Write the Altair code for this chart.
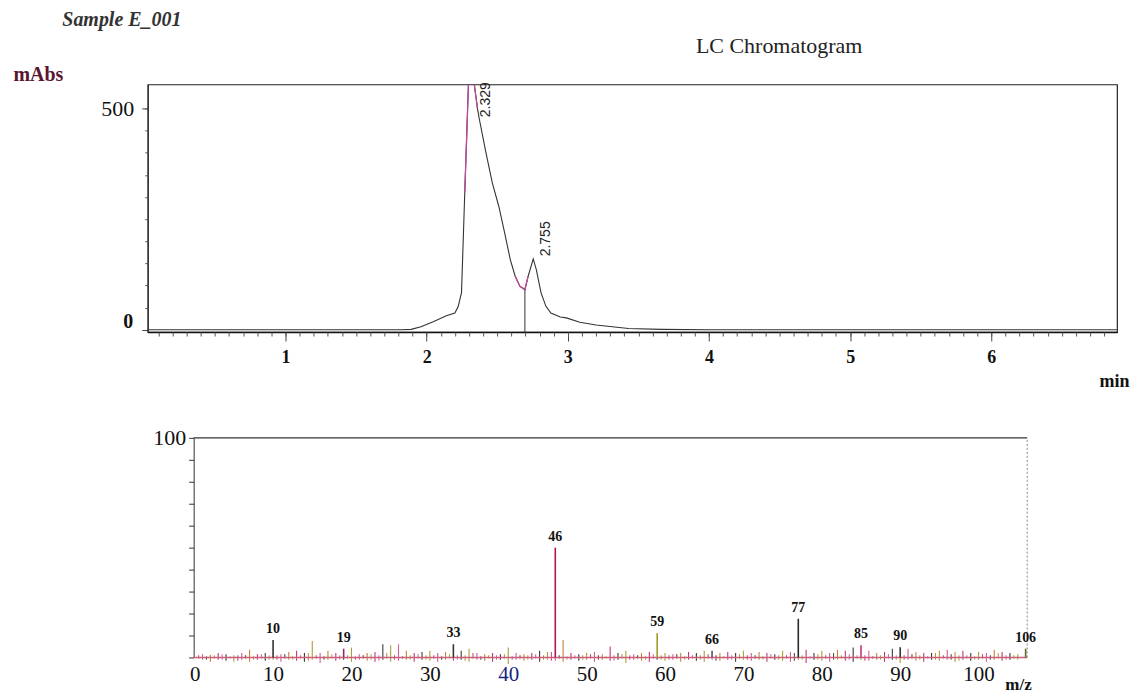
import altair as alt
import pandas as pd

# ---------------- LC chromatogram (top) ----------------
lc_time = [0.02, 0.5, 1.0, 1.5, 1.82, 1.89, 1.96, 2.05, 2.14, 2.20, 2.224, 2.235, 2.247, 2.27,
           2.29, 2.305, 2.335, 2.36, 2.373, 2.42, 2.465, 2.511, 2.558, 2.592, 2.627, 2.661,
           2.696, 2.719, 2.755, 2.777, 2.81, 2.845, 2.88, 2.947, 2.99, 3.085, 3.2, 3.43, 3.66,
           4.0, 5.0, 6.0, 6.89]
lc_mabs = [0, 0, 0, 0, 0, 1, 7, 19, 32, 38, 53, 68, 84, 310,
           497, 640, 560, 500, 476, 400, 332, 279, 211, 159, 121, 98,
           91, 121, 160, 136, 84, 53, 38, 29, 27, 17, 11, 3, 1,
           0, 0, 0, 0]
peak_text = ["2.329", "2.755"]
peak_time = [2.329, 2.755]
peak_label_mabs = [480, 166]
valley_time = [2.696]
valley_mabs = [91]
lc_x_labels = [1, 2, 3, 4, 5, 6]
lc_x_minor = [round(0.1 * i, 1) for i in range(1, 69)]
lc_y_top_label = [500]
lc_y_zero_label = [0]
lc_y_minor = list(range(0, 501, 50))

# ---------------- Mass spectrum (bottom) ----------------
ms_label_text = ["10", "19", "33", "46", "59", "66", "77", "85", "90", "106"]
ms_label_mz = [10, 19, 33, 46, 59, 66, 77, 85, 90, 106]
ms_label_int = [8, 4, 6, 50, 11, 3, 17.6, 5.5, 4.7, 4]

noise_mz = list(range(1, 106))
noise_up = [1.5, 1.2, 2, 1.5, 1, 2, 3.5, 1.5, 2, 0,
            1.5, 2.5, 3, 2, 7.5, 2, 3, 2, 0, 4.5,
            1.5, 2, 2.5, 6, 5.5, 6, 3, 2, 2.5, 3,
            2, 2.5, 0, 3, 4, 2, 1.5, 2, 1.5, 4.5,
            2, 1.5, 2, 3, 2.5, 0, 8, 2, 1.5, 2,
            2.5, 1.5, 5, 2, 3, 1.5, 2, 2.5, 0, 2,
            1.5, 2, 2.5, 2, 3, 0, 2, 2.5, 2, 3,
            2, 2.5, 2, 1.5, 3, 2.5, 0, 3.5, 2, 3,
            2, 3.5, 3, 4.5, 0, 3, 2, 2.5, 4, 0,
            4, 2.5, 2, 2, 3, 3.5, 2.5, 3, 2, 2.5,
            2, 3.5, 2.5, 2, 1.5]
noise_down = [1, 2, 1, 1.5, 2, 1, 2, 1, 1.5, 1,
              2, 1, 1.5, 2, 1, 2.5, 1, 1.5, 1, 2,
              1, 1.5, 2, 1, 2, 1.5, 1, 2, 1, 1.5,
              2, 1, 1.5, 1, 2, 1, 1.5, 2, 1, 3,
              1, 1.5, 1, 2, 1, 1.5, 2, 1, 1.5, 1,
              2, 1, 1.5, 1, 2.5, 1, 1.5, 2, 1, 1.5,
              1, 2, 1, 1.5, 2, 1, 1.5, 1, 2, 1,
              1.5, 1, 2, 1, 1.5, 2, 1, 2.5, 1, 1.5,
              2, 1, 1.5, 2, 1, 1.5, 1, 2, 1, 2.5,
              1, 1.5, 2, 1, 1.5, 1, 2, 1, 1.5, 1,
              2, 1, 1.5, 1, 1]
# smaller in-between noise lines (half-integer m/z)
noise2_mz = [i + 0.5 for i in range(0, 105)]
noise2_up = [1, 0.5, 1, 1.5, 0.5, 1, 1, 0.5, 1.5, 1,
             1, 1.5, 0.5, 1, 2, 1, 0.5, 1.5, 1, 1,
             0.5, 1, 1.5, 1, 2, 1, 0.5, 1, 1.5, 1,
             1, 0.5, 1.5, 1, 1, 2, 0.5, 1, 1, 1.5,
             0.5, 1, 1, 1.5, 1, 2.5, 1, 0.5, 1, 1,
             1.5, 1, 0.5, 1, 1.5, 1, 1, 0.5, 1.5, 1,
             1, 1.5, 0.5, 1, 1, 1.5, 1, 0.5, 1, 1.5,
             1, 1, 0.5, 1.5, 1, 1, 2, 1, 0.5, 1.5,
             1, 2, 1, 1.5, 1, 1, 0.5, 1, 1.5, 1,
             1, 1.5, 1, 0.5, 2, 1, 1.5, 1, 1, 0.5,
             1.5, 1, 2, 1, 1]
noise2_down = [0.5, 1, 0.5, 1, 0.5, 1.5, 0.5, 1, 0.5, 1,
               1, 0.5, 1, 0.5, 1.5, 0.5, 1, 0.5, 1, 0.5,
               1, 0.5, 1, 1.5, 0.5, 1, 0.5, 1, 0.5, 1,
               0.5, 1, 0.5, 1, 1.5, 0.5, 1, 0.5, 1, 0.5,
               1, 0.5, 1, 0.5, 1, 1.5, 0.5, 1, 0.5, 1,
               0.5, 1, 0.5, 1.5, 0.5, 1, 0.5, 1, 0.5, 1,
               1, 0.5, 1, 0.5, 1, 0.5, 1.5, 0.5, 1, 0.5,
               1, 0.5, 1, 0.5, 1, 0.5, 1.5, 1, 0.5, 1,
               0.5, 1, 0.5, 1, 0.5, 1.5, 0.5, 1, 0.5, 1,
               1, 0.5, 1, 0.5, 1, 0.5, 1, 1.5, 0.5, 1,
               0.5, 1, 0.5, 1, 0.5]
ms_x_labels = [0, 10, 20, 30, 40, 50, 60, 70, 80, 90, 100]
ms_y_ticks = list(range(0, 101, 10))

# ---------------- styling constants ----------------
SERIF = "Liberation Serif"
lc_xdom = [0.024, 6.891]
lc_ydom = [-5, 554]
ms_xdom = [-5.99, 106.2]
ms_box = [-0.13, 106.2]
ms_ydom = [0, 100]

# ---------------- top chart ----------------
lc_df = pd.DataFrame({"t": lc_time, "a": lc_mabs})
xs_top = alt.Scale(domain=lc_xdom, nice=False, zero=False)
ys_top = alt.Scale(domain=lc_ydom, nice=False, zero=False)

x_major = alt.Axis(
    orient="bottom", values=lc_x_labels, format="d", tickSize=9,
    tickColor="#444", domainColor="#111", domainWidth=1.5,
    labelFont=SERIF, labelFontSize=18, labelFontWeight="bold", labelColor="#111",
    labelPadding=8, labelFlush=False, grid=False,
    title="min", titleX=983, titleY=50, titleAlign="right", titleBaseline="middle",
    titleFont=SERIF, titleFontSize=18, titleFontWeight="bold", titleColor="#111",
)
x_minor = alt.Axis(
    orient="bottom", values=lc_x_minor, tickSize=4, tickColor="#555",
    labels=False, domain=False, grid=False, title=None,
)
y_major = alt.Axis(
    orient="left", values=lc_y_top_label, tickSize=6, tickColor="#444",
    domainColor="#222", labelFont=SERIF, labelFontSize=22, labelColor="#111",
    labelPadding=8, grid=False,
    title="mAbs", titleAngle=0, titleX=-135, titleY=-10, titleAlign="left",
    titleBaseline="middle", titleFont=SERIF, titleFontSize=20, titleFontWeight="bold",
    titleColor="#5a1530",
)
y_minor = alt.Axis(
    orient="left", values=lc_y_minor, tickSize=3, tickColor="#555",
    labels=False, domain=False, grid=False, title=None,
)
y_zero = alt.Axis(
    orient="left", values=lc_y_zero_label, tickSize=6, tickColor="#444",
    domain=False, labelFont=SERIF, labelFontSize=20, labelFontWeight="bold",
    labelColor="#111", labelPadding=9, labelOffset=-8, grid=False, title=None,
)

lc_line = alt.Chart(lc_df).mark_line(color="#333", strokeWidth=1.1, clip=True).encode(
    x=alt.X("t:Q", scale=xs_top, axis=x_major),
    y=alt.Y("a:Q", scale=ys_top, axis=y_major),
)
lc_mag = alt.Chart(lc_df).transform_filter(
    "(datum.t >= 2.27 && datum.t <= 2.36) || (datum.t >= 2.6 && datum.t <= 2.72)"
).transform_calculate(seg="datum.t < 2.5 ? 'a' : 'b'").mark_line(
    color="#c0479a", strokeWidth=1.3, clip=True
).encode(
    x=alt.X("t:Q", scale=xs_top, axis=x_minor),
    y=alt.Y("a:Q", scale=ys_top, axis=y_minor),
    detail="seg:N",
)
valley_df = pd.DataFrame({"t": valley_time, "a": valley_mabs, "a0": [lc_ydom[0]]})
lc_drop = alt.Chart(valley_df).mark_rule(color="#333", strokeWidth=1).encode(
    x=alt.X("t:Q", scale=xs_top, axis=None),
    y=alt.Y("a:Q", scale=ys_top, axis=y_zero),
    y2="a0:Q",
)
peak_df = pd.DataFrame({"t": peak_time, "a": peak_label_mabs, "txt": peak_text})
lc_text = alt.Chart(peak_df).mark_text(
    angle=270, align="left", baseline="middle", dy=13,
    font="Liberation Sans", fontSize=14, color="#222"
).encode(
    x=alt.X("t:Q", scale=xs_top, axis=None),
    y=alt.Y("a:Q", scale=ys_top, axis=None),
    text="txt:N",
)

top = alt.layer(lc_line, lc_mag, lc_drop, lc_text).resolve_axis(
    x="independent", y="independent"
).properties(
    width=971, height=248,
    title=alt.TitleParams("LC Chromatogram", anchor="middle", dx=147, offset=7,
                          font=SERIF, fontSize=22, fontWeight="normal", color="#222"),
    view=alt.ViewBackground(stroke="#222", strokeWidth=1.2),
)

# ---------------- bottom chart ----------------
xs_ms = alt.Scale(domain=ms_xdom, nice=False, zero=False)
ys_ms = alt.Scale(domain=ms_ydom, nice=False, zero=False)

bottom_x_axis = alt.Axis(
    values=ms_x_labels, ticks=False, domain=False, grid=False, format="d",
    labelFont=SERIF, labelFontSize=21, labelPadding=6, labelFlush=False,
    labelColor={"condition": {"test": "datum.value == 40", "value": "#1a237e"},
                "value": "#111"},
    title="m/z", titleX=885, titleY=27, titleAlign="right", titleBaseline="middle",
    titleFont=SERIF, titleFontSize=17, titleFontWeight="bold", titleColor="#111",
)
bottom_y_axis = alt.Axis(
    values=ms_y_ticks,
    labelExpr="datum.value == 100 ? datum.label : ''",
    offset=-46, tickSize=5, tickColor="#333", domainColor="#333", grid=False,
    labelFont=SERIF, labelFontSize=22, labelColor="#111", labelPadding=3, title=None,
)

noise_colors = alt.Scale(
    domain=["g0", "g1", "g2", "g3", "g4"],
    range=["#c2387a", "#3b3b3b", "#a8a035", "#d0608f", "#c88040"])

noise2_df = pd.DataFrame({"mz": noise2_mz, "up": noise2_up, "down": noise2_down})
ms_noise2 = alt.Chart(noise2_df).transform_calculate(
    dn="-datum.down", grp="'g' + (floor(datum.mz) % 5)"
).mark_rule(strokeWidth=1).encode(
    x=alt.X("mz:Q", scale=xs_ms, axis=None),
    y=alt.Y("up:Q", scale=ys_ms, axis=None),
    y2="dn:Q",
    color=alt.Color("grp:N", legend=None, scale=noise_colors),
)
noise_df = pd.DataFrame({"mz": noise_mz, "up": noise_up, "down": noise_down})
ms_noise = alt.Chart(noise_df).transform_calculate(
    dn="-datum.down", grp="'g' + ((datum.mz + 2) % 5)"
).mark_rule(strokeWidth=1.1).encode(
    x=alt.X("mz:Q", scale=xs_ms, axis=bottom_x_axis),
    y=alt.Y("up:Q", scale=ys_ms, axis=bottom_y_axis),
    y2="dn:Q",
    color=alt.Color("grp:N", legend=None, scale=noise_colors),
)
box_df = pd.DataFrame({"x0": [ms_box[0]], "x1": [ms_box[1]], "y0": [ms_ydom[0]], "y1": [ms_ydom[1]]})
ms_base = alt.Chart(box_df).mark_rule(color="#c8607a", strokeWidth=1.4).encode(
    x=alt.X("x0:Q", scale=xs_ms, axis=None), x2="x1:Q",
    y=alt.Y("y0:Q", scale=ys_ms, axis=None),
)
ms_top = alt.Chart(box_df).mark_rule(color="#333", strokeWidth=1.1).encode(
    x=alt.X("x0:Q", scale=xs_ms, axis=None), x2="x1:Q",
    y=alt.Y("y1:Q", scale=ys_ms, axis=None),
)
ms_right = alt.Chart(box_df).mark_rule(color="#888", strokeWidth=1, strokeDash=[2, 2]).encode(
    x=alt.X("x1:Q", scale=xs_ms, axis=None),
    y=alt.Y("y0:Q", scale=ys_ms, axis=None), y2="y1:Q",
)
lab_df = pd.DataFrame({"mz": ms_label_mz, "inten": ms_label_int, "lbl": ms_label_text})
ms_peaks = alt.Chart(lab_df).mark_rule(strokeWidth=1.6).encode(
    x=alt.X("mz:Q", scale=xs_ms, axis=None),
    y=alt.Y("inten:Q", scale=ys_ms, axis=None),
    y2=alt.datum(0),
    color=alt.Color("lbl:N", legend=None, scale=alt.Scale(
        domain=ms_label_text,
        range=["#333333", "#8a3060", "#333333", "#b0144c", "#a09a2a",
               "#555555", "#2a2a2a", "#c0387a", "#333333", "#5a6a2a"])),
)
ms_text = alt.Chart(lab_df).mark_text(
    baseline="bottom", dy=-4, font=SERIF, fontSize=14, fontWeight="bold", color="#111"
).encode(
    x=alt.X("mz:Q", scale=xs_ms, axis=None),
    y=alt.Y("inten:Q", scale=ys_ms, axis=None),
    text="lbl:N",
)

bottom = alt.layer(ms_noise, ms_noise2, ms_base, ms_top, ms_right, ms_peaks, ms_text).resolve_scale(
    color="independent"
).resolve_axis(
    x="independent", y="independent"
).properties(
    width=881, height=220,
    view=alt.ViewBackground(stroke=None),
)

chart = alt.vconcat(top, bottom, spacing=35).properties(
    title=alt.TitleParams("Sample E_001", anchor="start", dx=50, offset=4,
                          font=SERIF, fontSize=20, fontStyle="italic",
                          fontWeight="bold", color="#333"),
    padding={"left": 12, "right": 4, "top": 9, "bottom": 1},
    background="white",
)

chart.save("out.html", embed_options={"renderer": "svg", "actions": False})
